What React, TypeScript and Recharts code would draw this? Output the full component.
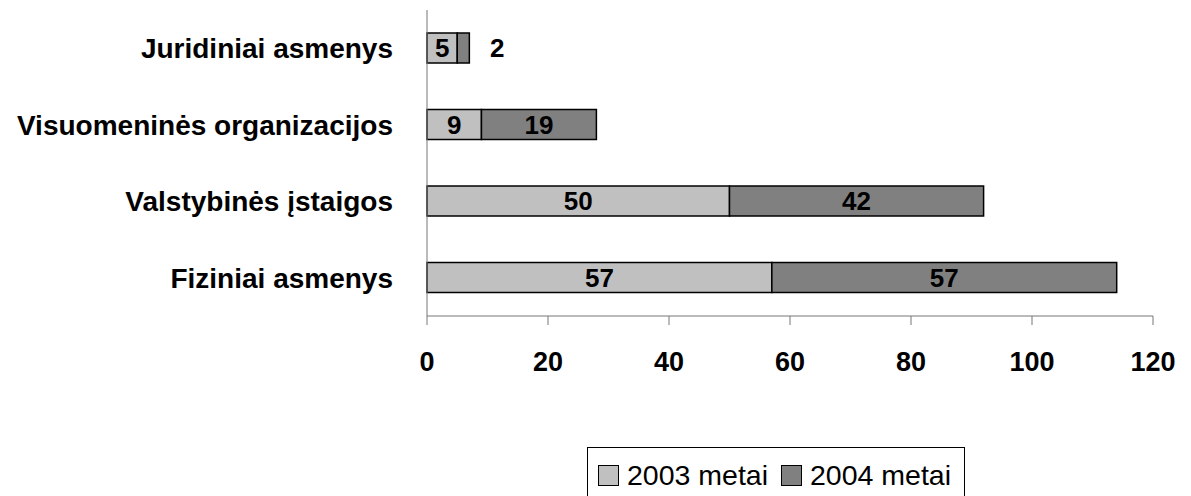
import React from 'react'
import { BarChart, Bar, XAxis, YAxis, Legend, LabelList } from 'recharts'

const categories = [
  'Juridiniai asmenys',
  'Visuomeninės organizacijos',
  'Valstybinės įstaigos',
  'Fiziniai asmenys',
]
const values2003 = [5, 9, 50, 57]
const values2004 = [2, 19, 42, 57]
const xTicks = [0, 20, 40, 60, 80, 100, 120]

const FONT = '"Liberation Sans", Arial, sans-serif'
const LIGHT = '#c0c0c0'
const DARK = '#808080'

const data = categories.map((name, i) => ({
  name,
  y2003: values2003[i],
  y2004: values2004[i],
}))

// small segments get their number pushed out to the right
const renderLabel = (props: any) => {
  const { x, y, width, height, value } = props
  const cx = width < 20 ? x + width + 28 : x + width / 2
  return (
    <text
      x={cx}
      y={y + height / 2}
      textAnchor="middle"
      dominantBaseline="central"
      fontFamily={FONT}
      fontWeight="bold"
      fontSize={26}
      fill="#000"
    >
      {value}
    </text>
  )
}

const legendItems = [
  { label: '2003 metai', color: LIGHT },
  { label: '2004 metai', color: DARK },
]

const renderLegend = () => (
  <div
    style={{
      border: '1px solid #000',
      boxSizing: 'border-box',
      height: 60,
      display: 'flex',
      alignItems: 'flex-start',
      paddingLeft: 10,
      paddingTop: 14,
      fontFamily: FONT,
      fontSize: 28.5,
      lineHeight: '26px',
      color: '#000',
    }}
  >
    {legendItems.map((it) => (
      <span key={it.label} style={{ display: 'flex', alignItems: 'center', marginRight: 13 }}>
        <span
          style={{
            display: 'inline-block',
            boxSizing: 'border-box',
            width: 21,
            height: 21,
            background: it.color,
            border: '1.5px solid #000',
            marginRight: 8,
          }}
        />
        {it.label}
      </span>
    ))}
  </div>
)

export default function App() {
  return (
    <div style={{ position: 'absolute', left: 0, top: 0, background: '#fff' }}>
      <BarChart
        width={1191}
        height={496}
        data={data}
        layout="vertical"
        margin={{ top: 10, right: 38, left: 0, bottom: 130 }}
      >
        <XAxis
          type="number"
          domain={[0, 120]}
          ticks={xTicks}
          height={50}
          tickSize={9}
          tickMargin={27}
          stroke="#777"
          tick={{ fontFamily: FONT, fontWeight: 'bold', fontSize: 27, fill: '#000' }}
        />
        <YAxis
          type="category"
          dataKey="name"
          width={427}
          tickSize={0}
          tickMargin={34}
          stroke="#777"
          tick={{ fontFamily: FONT, fontWeight: 'bold', fontSize: 28, fill: '#000' }}
        />
        <Legend
          layout="horizontal"
          verticalAlign="middle"
          align="center"
          wrapperStyle={{ left: 587, top: 447, width: 378 }}
          content={renderLegend}
        />
        <Bar dataKey="y2003" stackId="a" fill={LIGHT} stroke="#000" strokeWidth={1.5} barSize={30} isAnimationActive={false}>
          <LabelList dataKey="y2003" content={renderLabel} />
        </Bar>
        <Bar dataKey="y2004" stackId="a" fill={DARK} stroke="#000" strokeWidth={1.5} barSize={30} isAnimationActive={false}>
          <LabelList dataKey="y2004" content={renderLabel} />
        </Bar>
      </BarChart>
    </div>
  )
}
